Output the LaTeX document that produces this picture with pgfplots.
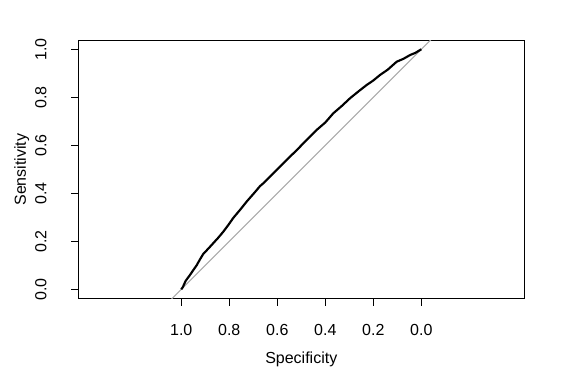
\documentclass[border=0pt]{standalone}
\usepackage{fontspec}
\setmainfont{Liberation Sans}
\usepackage{pgfplots}
\pgfplotsset{compat=1.18}
\definecolor{diagcol}{HTML}{A9A9A9}
\begin{document}
\begin{tikzpicture}
\useasboundingbox (-58.7pt,-59.25pt) rectangle (365pt,224.2pt);
\begin{axis}[
  scale only axis,
  width=334.5pt, height=194pt,
  at={(0,0)}, anchor=south west,
  x dir=reverse,
  xmin=-0.429, xmax=1.429,
  ymin=-0.04, ymax=1.0375,
  xtick={0,0.2,0.4,0.6,0.8,1},
  ytick={0,0.2,0.4,0.6,0.8,1},
  xtick pos=left, ytick pos=left,
  tick align=outside,
  major tick length=5.25pt,
  every tick/.style={black, line width=0.75pt},
  axis line style={line width=0.75pt},
  /pgf/number format/assume math mode=true,
  /pgf/number format/.cd, fixed, fixed zerofill, precision=1, /pgfplots/.cd,
  xticklabel style={font=\fontsize{12}{14}\selectfont, anchor=north, inner sep=0pt, yshift=-13.3pt},
  yticklabel style={font=\fontsize{12}{14}\selectfont, rotate=90, anchor=south, inner sep=0pt, yshift=18.4pt},
  xticklabel={\pgfmathprintnumber{\tick}},
  yticklabel={\pgfmathprintnumber{\tick}},
  xlabel={Specificity}, ylabel={Sensitivity},
  xlabel style={font=\fontsize{12}{14}\selectfont, at={(rel axis cs:0.5,0)}, anchor=base, yshift=-48.2pt, inner sep=0pt},
  ylabel style={font=\fontsize{12}{14}\selectfont, at={(rel axis cs:0,0.5)}, anchor=base, yshift=39.2pt, inner sep=0pt},
  clip=true,
]
\addplot[diagcol, line width=0.75pt] coordinates {(1.6,-0.6) (-0.6,1.6)};
\addplot[black, line width=1.6pt] coordinates {
(1.0,0.0) (0.993,0.010) (0.982,0.035) (0.965,0.058) (0.950,0.080)
(0.936,0.100) (0.922,0.125) (0.908,0.148) (0.887,0.170) (0.867,0.192)
(0.846,0.215) (0.825,0.240) (0.804,0.268) (0.783,0.298) (0.756,0.330)
(0.728,0.365) (0.693,0.405) (0.672,0.430) (0.658,0.442) (0.630,0.470)
(0.603,0.497) (0.560,0.540) (0.519,0.580) (0.478,0.622) (0.436,0.664)
(0.400,0.695) (0.367,0.733) (0.330,0.765) (0.297,0.796) (0.260,0.826)
(0.228,0.851) (0.200,0.870) (0.172,0.893) (0.140,0.915) (0.103,0.948)
(0.075,0.960) (0.047,0.976) (0.025,0.985) (0.0,1.0)
};
\end{axis}
\end{tikzpicture}
\end{document}
